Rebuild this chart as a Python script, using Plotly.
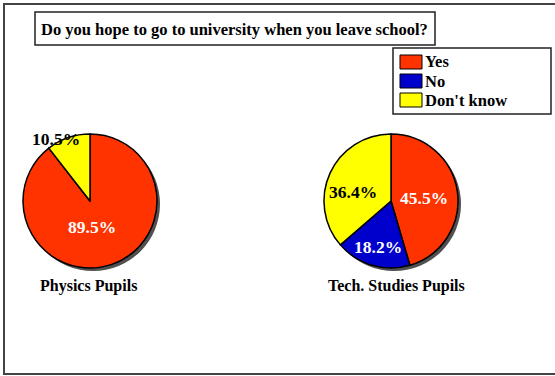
import plotly.graph_objects as go

categories = ["Yes", "No", "Don't know"]
colors = ["#FF3300", "#0000CC", "#FFFF00"]
physics_counts = [17, 0, 2]
tech_counts = [5, 2, 4]
title_text = "Do you hope to go to university when you leave school?"
pie_names = ["Physics Pupils", "Tech. Studies Pupils"]

W, H = 555, 376
FONT = "Liberation Serif"

def px(x):
    return x / W

def py(y):
    return 1 - y / H

R = 67
SH = 3
centers = [(90, 201), (391, 201)]

fig = go.Figure()
# shadows
for cx, cy in centers:
    fig.add_trace(go.Pie(
        values=[1], labels=["shadow"], marker=dict(colors=["#505050"], line=dict(width=0)),
        textinfo="none", hoverinfo="skip", showlegend=False, sort=False,
        domain=dict(x=[px(cx - R + SH), px(cx + R + SH)], y=[py(cy + R + SH), py(cy - R + SH)]),
    ))
for (cx, cy), vals, name in zip(centers, [physics_counts, tech_counts], pie_names):
    fig.add_trace(go.Pie(
        labels=categories, values=vals, name=name,
        marker=dict(colors=colors, line=dict(color="black", width=1.5)),
        sort=False, direction="clockwise", rotation=0,
        textinfo="none", hoverinfo="label+percent",
        showlegend=False,
        domain=dict(x=[px(cx - R), px(cx + R)], y=[py(cy + R), py(cy - R)]),
    ))

shapes = []
shapes.append(dict(type="rect", xref="paper", yref="paper",
                   x0=px(4), x1=px(557), y0=py(374), y1=py(4),
                   line=dict(color="#444444", width=2), layer="below"))
shapes.append(dict(type="rect", xref="paper", yref="paper",
                   x0=px(35), x1=px(435), y0=py(45), y1=py(12),
                   line=dict(color="#222222", width=1.5)))
shapes.append(dict(type="rect", xref="paper", yref="paper",
                   x0=px(393), x1=px(551), y0=py(114), y1=py(48),
                   line=dict(color="#222222", width=1.5)))

annotations = []
annotations.append(dict(text="<b>" + title_text + "</b>", xref="paper", yref="paper",
                        x=px(39), y=py(29), xanchor="left", yanchor="middle",
                        showarrow=False, font=dict(family=FONT, size=16.5, color="black")))
leg_y = [62, 81, 100]
for cat, col, yy in zip(categories, colors, leg_y):
    shapes.append(dict(type="rect", xref="paper", yref="paper",
                       x0=px(400), x1=px(422), y0=py(yy + 7), y1=py(yy - 7),
                       fillcolor=col, line=dict(color="black", width=1)))
    annotations.append(dict(text="<b>" + cat + "</b>", xref="paper", yref="paper",
                            x=px(423), y=py(yy), xanchor="left", yanchor="middle",
                            showarrow=False, font=dict(family=FONT, size=16.5, color="black")))

def pct(vals):
    t = sum(vals)
    return [f"{100 * v / t:.1f}%" for v in vals]

phys_pct = pct(physics_counts)
tech_pct = pct(tech_counts)
label_specs = [
    (phys_pct[0], 92, 227, "white"),
    (phys_pct[2], 56, 139, "black"),
    (tech_pct[0], 424, 198, "white"),
    (tech_pct[1], 378, 247, "white"),
    (tech_pct[2], 353, 192, "black"),
]
for txt, x, y, c in label_specs:
    annotations.append(dict(text="<b>" + txt + "</b>", xref="paper", yref="paper",
                            x=px(x), y=py(y), xanchor="center", yanchor="middle",
                            showarrow=False, font=dict(family=FONT, size=17.5, color=c)))
for name, nx in zip(pie_names, [88, 396]):
    annotations.append(dict(text="<b>" + name + "</b>", xref="paper", yref="paper",
                            x=px(nx), y=py(286), xanchor="center", yanchor="middle",
                            showarrow=False, font=dict(family=FONT, size=16, color="black")))

fig.update_layout(width=W, height=H, margin=dict(l=0, r=0, t=0, b=0),
                  paper_bgcolor="white", plot_bgcolor="white",
                  shapes=shapes, annotations=annotations)
fig.write_html("out.html")
